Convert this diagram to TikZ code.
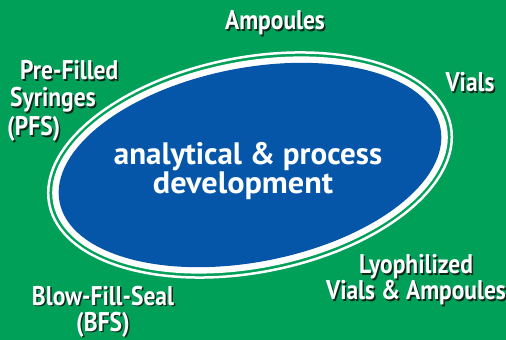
\documentclass[tikz,border=0pt]{standalone}
\usepackage{fontspec}
\setmainfont{PT Sans}
\usepackage{graphicx}
\definecolor{bggreen}{RGB}{0,160,88}
\definecolor{ellblue}{RGB}{5,86,168}
\definecolor{shadowc}{RGB}{10,40,25}
\tikzset{
  lbl/.style={text=white, inner sep=0pt, font=\fontsize{27}{30}\selectfont\bfseries},
  lblshadow/.style={lbl, text=shadowc, xshift=1.5pt, yshift=-1.5pt},
  ctr/.style={text=white, inner sep=0pt, font=\fontsize{31}{34}\selectfont\bfseries},
}
\newcommand\lbl[4]{%
  \node[lblshadow, anchor=#3] (#1s) at (#2) {\scalebox{0.87}[1]{#4}};
  \node[lbl, anchor=#3] (#1) at (#2) {\scalebox{0.87}[1]{#4}};}
\begin{document}
\begin{tikzpicture}[x=1pt,y=1pt]
\fill[bggreen] (0,0) rectangle (506,340);
\useasboundingbox (0,0) rectangle (506,340);
\coordinate (c) at (250,175);
\draw[white, line width=2.5pt, rotate around={11:(c)}] (c) ellipse [x radius=204.5, y radius=107.5];
\fill[white, rotate around={11:(c)}] (c) ellipse [x radius=200.5, y radius=103.5];
\fill[ellblue, rotate around={11:(c)}] (c) ellipse [x radius=194, y radius=97];
\lbl{amp}{275,310}{base}{Ampoules}
\lbl{vials}{470,248}{base}{Vials}
\lbl{pre}{20,260}{base west}{Pre-Filled}
\lbl{syr}{10,233}{base west}{Syringes}
\lbl{pfs}{7,204}{base west}{(PFS)}
\lbl{lyo}{416,66}{base}{Lyophilized}
\lbl{via}{416,40}{base}{Vials \& Ampoules}
\lbl{bfs}{103,34.5}{base}{Blow-Fill-Seal}
\lbl{bfsa}{103,8.5}{base}{(BFS)}
\node[ctr, anchor=base] (t1) at (248,175) {analytical \& process};
\node[ctr, anchor=base] (t2) at (243,146) {\scalebox{1.04}[1]{development}};
\end{tikzpicture}
\end{document}
